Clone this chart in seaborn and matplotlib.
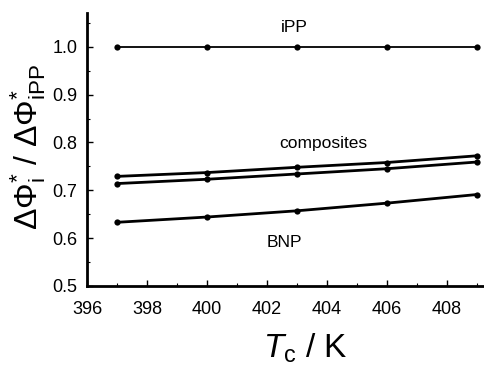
import numpy as np
import pandas as pd
import matplotlib
matplotlib.use('Agg')
import matplotlib.pyplot as plt
import seaborn as sns
from matplotlib.ticker import MultipleLocator

# Data
tc = [397, 400, 403, 406, 409]
ipp = [1.0, 1.0, 1.0, 1.0, 1.0]
comp_upper = [0.729, 0.737, 0.748, 0.758, 0.772]
comp_lower = [0.714, 0.723, 0.734, 0.745, 0.759]
bnp = [0.633, 0.644, 0.657, 0.673, 0.691]

sns.set_style('ticks', {'axes.edgecolor': 'black', 'text.color': 'black',
                        'xtick.color': 'black', 'ytick.color': 'black',
                        'axes.labelcolor': 'black'})
plt.rcParams['font.family'] = ['Liberation Sans', 'DejaVu Sans']
plt.rcParams['mathtext.fontset'] = 'custom'
plt.rcParams['mathtext.rm'] = 'Liberation Sans'
plt.rcParams['mathtext.it'] = 'Liberation Sans:italic'

fig = plt.figure(figsize=(4.84, 3.67), dpi=100)
ax = fig.add_axes([0.18, 0.221, 0.82, 0.744])

series = [(ipp, 1.3), (comp_upper, 2.0), (comp_lower, 2.0), (bnp, 2.0)]
for vals, lw in series:
    sns.lineplot(x=tc, y=vals, ax=ax, color='black', linewidth=lw,
                 marker='o', markersize=4.5, markeredgewidth=0)

ax.set_xlim(396, 409.25)
ax.set_ylim(0.5, 1.071)
ax.xaxis.set_major_locator(MultipleLocator(2))
ax.xaxis.set_minor_locator(MultipleLocator(1))
ax.yaxis.set_minor_locator(MultipleLocator(0.05))
ax.set_yticks([0.5, 0.6, 0.7, 0.8, 0.9, 1.0])
ax.set_yticklabels(['0.5', '0.6', '0.7', '0.8', '0.9', '1.0'])

for side in ['top', 'right']:
    ax.spines[side].set_visible(False)
for side in ['left', 'bottom']:
    ax.spines[side].set_linewidth(2)
    ax.spines[side].set_color('black')
ax.tick_params(which='major', direction='in', length=4, width=1,
               labelsize=13, pad=7, colors='black')
ax.tick_params(axis='x', which='major', pad=11)
ax.tick_params(which='minor', direction='in', length=2, width=0.8, colors='black')

ax.text(402.93, 1.04, 'iPP', ha='center', va='center', fontsize=12.5, color='black')
ax.text(403.9, 0.797, 'composites', ha='center', va='center', fontsize=12.5, color='black')
ax.text(402.6, 0.59, 'BNP', ha='center', va='center', fontsize=12.5, color='black')

fig.text(0.058, 0.60, r'$\Delta\Phi^{*}_{\mathrm{i}}\ /\ \Delta\Phi^{*}_{\mathrm{iPP}}$',
         rotation=90, ha='center', va='center', fontsize=23, color='black')
fig.text(0.63, 0.05, r'$T_{\mathrm{c}}$ / K', ha='center', va='center',
         fontsize=24, color='black')

fig.savefig('out.png', dpi=100)
